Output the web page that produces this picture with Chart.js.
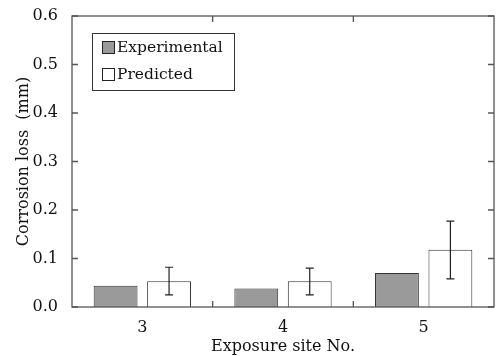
<!DOCTYPE html>
<html>
<head>
<meta charset="utf-8">
<script src="https://cdn.jsdelivr.net/npm/chart.js@4"></script>
<style>
  html, body { margin: 0; padding: 0; background: #fff; }
  #wrap { width: 496px; height: 356px; }
</style>
</head>
<body>
<div id="wrap"><canvas id="chart" width="496" height="356"></canvas></div>
<script>
// data
const sites = ['3', '4', '5'];
const experimental = [0.044, 0.038, 0.070];
const predicted = [0.053, 0.053, 0.118];
const predictedLow = [0.025, 0.025, 0.058];
const predictedHigh = [0.082, 0.080, 0.177];
const yTicks = [0, 0.1, 0.2, 0.3, 0.4, 0.5, 0.6];

const FONT = 'DejaVu Serif';
const FRAME = '#555';

// frame, inward ticks, error bars and legend box
const decorations = {
  id: 'decorations',
  afterDatasetsDraw(chart) {
    const { ctx, chartArea: a, scales } = chart;
    const y = scales.y, x = scales.x;
    ctx.save();

    // error bars on the predicted series
    const meta = chart.getDatasetMeta(1);
    ctx.strokeStyle = '#222';
    ctx.lineWidth = 1.2;
    meta.data.forEach((bar, i) => {
      const yt = y.getPixelForValue(predictedHigh[i]);
      const yb = y.getPixelForValue(predictedLow[i]);
      ctx.beginPath();
      ctx.moveTo(bar.x, yt); ctx.lineTo(bar.x, yb);
      ctx.moveTo(bar.x - 4, yt); ctx.lineTo(bar.x + 4, yt);
      ctx.moveTo(bar.x - 4, yb); ctx.lineTo(bar.x + 4, yb);
      ctx.stroke();
    });

    // frame
    ctx.strokeStyle = FRAME;
    ctx.lineWidth = 1.3;
    ctx.strokeRect(a.left, a.top, a.right - a.left, a.bottom - a.top);

    // y ticks, both sides
    ctx.beginPath();
    yTicks.forEach(v => {
      const py = y.getPixelForValue(v);
      ctx.moveTo(a.left, py); ctx.lineTo(a.left + 6, py);
      ctx.moveTo(a.right, py); ctx.lineTo(a.right - 6, py);
    });
    // x ticks at category boundaries, top and bottom
    for (let i = 1; i < sites.length; i++) {
      const px = (x.getPixelForValue(i - 1) + x.getPixelForValue(i)) / 2;
      ctx.moveTo(px, a.bottom); ctx.lineTo(px, a.bottom - 6);
      ctx.moveTo(px, a.top); ctx.lineTo(px, a.top + 6);
    }
    ctx.stroke();

    // legend
    const lx = 92, ly = 33, lw = 142, lh = 57;
    ctx.fillStyle = '#fff';
    ctx.fillRect(lx, ly, lw, lh);
    ctx.strokeStyle = '#333';
    ctx.lineWidth = 1;
    ctx.strokeRect(lx + 0.5, ly + 0.5, lw, lh);
    const ds = chart.data.datasets;
    ds.forEach((d, i) => {
      const cy = ly + 14 + i * 27;
      ctx.fillStyle = d.backgroundColor;
      ctx.fillRect(102, cy - 6, 12, 12);
      ctx.strokeStyle = '#222';
      ctx.strokeRect(102.5, cy - 5.5, 12, 12);
      ctx.fillStyle = '#111';
      ctx.font = '15.5px "' + FONT + '"';
      ctx.textBaseline = 'middle';
      ctx.textAlign = 'left';
      ctx.fillText(d.label, 117, cy + 1);
    });
    ctx.restore();
  }
};

new Chart(document.getElementById('chart'), {
  type: 'bar',
  data: {
    labels: sites,
    datasets: [
      { label: 'Experimental', data: experimental, backgroundColor: '#9a9a9a',
        borderColor: '#333', borderWidth: 1, borderSkipped: 'bottom' },
      { label: 'Predicted', data: predicted, backgroundColor: '#ffffff',
        borderColor: '#333', borderWidth: 1, borderSkipped: 'bottom' }
    ]
  },
  options: {
    responsive: false,
    animation: false,
    categoryPercentage: 0.76,
    barPercentage: 0.82,
    layout: { padding: { top: 16, right: 2, left: 14, bottom: 0 } },
    plugins: { legend: { display: false }, tooltip: { enabled: false } },
    scales: {
      x: {
        grid: { display: false },
        border: { display: false },
        ticks: { color: '#111', font: { family: FONT, size: 16 }, padding: 3 },
        title: { display: true, text: 'Exposure site No.', color: '#111',
                 font: { family: FONT, size: 16 }, padding: { top: 0, bottom: 0 } },
        afterFit(s) { s.height = 49; }
      },
      y: {
        min: 0, max: 0.6,
        afterBuildTicks(s) { s.ticks = yTicks.map(v => ({ value: v })); },
        grid: { display: false },
        border: { display: false },
        ticks: { color: '#111', font: { family: FONT, size: 16 }, padding: 6,
                 callback: v => v.toFixed(1) },
        title: { display: true, text: 'Corrosion loss  (mm)', color: '#111',
                 font: { family: FONT, size: 16 }, padding: { top: 0, bottom: 0 } },
        afterFit(s) { s.width = 58; }
      }
    }
  },
  plugins: [decorations]
});
</script>
</body>
</html>
